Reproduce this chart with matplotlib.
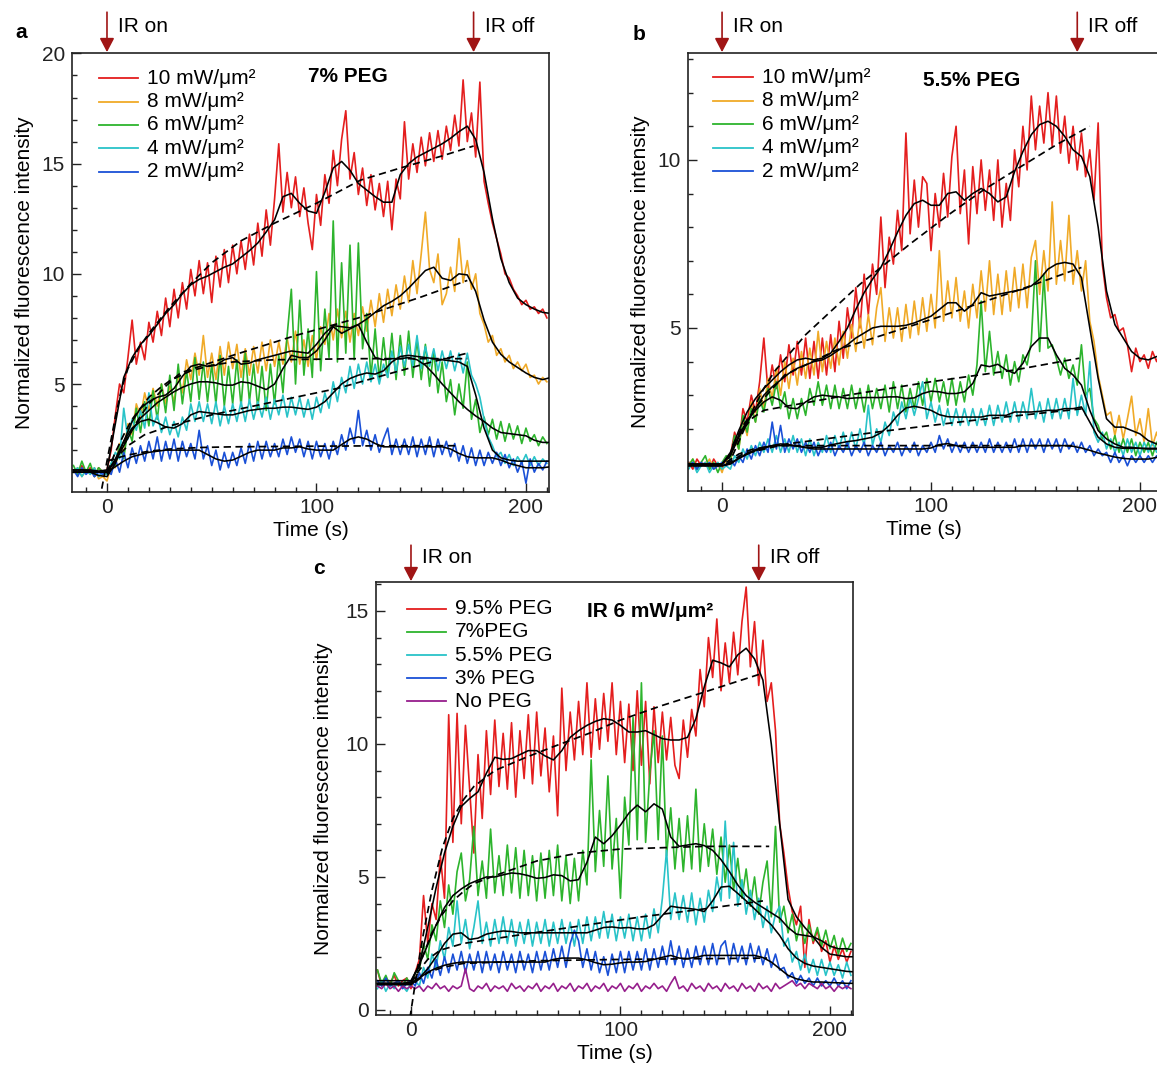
import numpy as np
import matplotlib
matplotlib.use('Agg')
import matplotlib.pyplot as plt
from matplotlib.ticker import MultipleLocator

plt.rcParams['font.family'] = ['Liberation Sans', 'DejaVu Sans']
plt.rcParams['font.size'] = 15

# ---------------- data ----------------
T0, DT = -16, 2      # raw traces: first time (s) and step (s)
S0, DS = -16, 4      # smoothed curves: first time (s) and step (s)

a_labels = ['10 mW/μm²', '8 mW/μm²', '6 mW/μm²', '4 mW/μm²', '2 mW/μm²']
b_labels = ['10 mW/μm²', '8 mW/μm²', '6 mW/μm²', '4 mW/μm²', '2 mW/μm²']
c_labels = ['9.5% PEG', '7%PEG', '5.5% PEG', '3% PEG', 'No PEG']
a_title, b_title, c_title = '7% PEG', '5.5% PEG', 'IR 6 mW/μm²'
a_ir_off, b_ir_off, c_ir_off = 175, 170, 166

# Panel a (7% PEG) raw traces
a_red = [1.1, 0.9, 1.3, 1.0, 1.2, 0.8, 1.2, 1.0, 1.1, 2.0,
         3.6, 5.0, 4.6, 6.2, 7.9, 5.9, 6.9, 6.1, 7.8, 6.9,
         8.3, 7.2, 8.9, 7.6, 9.3, 8.0, 9.6, 8.4, 10.2, 9.0,
         10.6, 9.1, 10.5, 8.7, 10.8, 9.4, 11.1, 9.6, 11.3, 10.0,
         11.5, 10.2, 11.8, 10.4, 12.3, 10.8, 12.9, 11.3, 13.4, 15.9,
         12.8, 14.6, 13.0, 14.4, 12.6, 13.9, 12.3, 11.1, 13.6, 12.2,
         14.5, 13.2, 15.6, 14.0, 16.1, 17.4, 14.3, 15.5, 13.6, 14.8,
         13.1, 14.5, 12.9, 14.1, 12.6, 14.2, 12.0, 14.3, 13.4, 16.9,
         14.3, 15.9, 14.6, 16.2, 14.9, 16.4, 15.1, 16.5, 15.2, 16.7,
         15.6, 17.2, 15.8, 18.8, 16.0, 17.3, 15.3, 18.7, 14.2, 13.2,
         12.3, 11.6, 10.9, 10.0, 9.8, 9.3, 9.0, 8.6, 8.8, 8.4,
         8.5, 8.2, 8.4, 8.0]
a_orange = [1.0, 1.2, 0.8, 1.1, 0.9, 1.2, 0.7, 0.8, 0.6, 1.3,
            1.2, 2.3, 1.9, 3.2, 2.7, 4.1, 3.5, 4.6, 3.8, 4.8,
            4.0, 5.0, 4.1, 4.9, 4.2, 5.4, 4.6, 6.1, 5.2, 6.4,
            5.4, 7.2, 5.3, 6.4, 5.2, 6.7, 5.4, 6.9, 5.7, 6.8,
            5.3, 6.6, 5.4, 6.7, 5.5, 6.9, 5.6, 7.0, 5.8, 6.9,
            5.9, 7.1, 6.0, 7.4, 5.9, 7.0, 5.8, 7.2, 6.1, 7.6,
            6.8, 8.2, 7.0, 8.4, 7.1, 8.3, 6.9, 8.2, 7.2, 8.5,
            7.4, 8.8, 7.6, 9.1, 7.8, 9.3, 8.1, 9.5, 8.4, 9.9,
            8.7, 10.6, 9.1, 10.9, 12.8, 10.2, 9.6, 10.9, 8.6, 9.1,
            10.3, 9.2, 11.6, 9.6, 10.6, 9.3, 10.0, 8.2, 7.7, 6.9,
            7.2, 6.3, 6.6, 6.0, 6.3, 5.7, 6.0, 5.6, 5.9, 5.3,
            5.4, 5.0, 5.3, 5.1]
a_green = [1.3, 0.9, 1.5, 1.0, 1.4, 0.8, 1.2, 1.0, 0.9, 1.4,
           1.3, 2.2, 1.6, 3.0, 2.4, 3.9, 2.8, 4.2, 3.1, 4.7,
           3.4, 5.0, 3.7, 5.4, 3.8, 5.9, 4.1, 5.6, 4.2, 6.2,
           4.3, 6.0, 4.2, 5.9, 4.1, 6.3, 4.0, 5.8, 4.1, 6.1,
           4.0, 6.4, 4.2, 5.9, 3.9, 5.8, 3.8, 5.9, 4.1, 6.3,
           4.6, 7.2, 9.3, 5.0, 8.8, 5.4, 7.5, 5.3, 10.1, 5.6,
           8.4, 6.2, 12.4, 6.0, 10.5, 6.4, 11.3, 6.1, 11.4, 6.6,
           8.2, 5.3, 7.5, 5.2, 7.1, 5.3, 7.3, 5.2, 7.2, 5.4,
           7.4, 5.3, 7.0, 5.2, 6.8, 4.9, 6.5, 4.6, 6.0, 4.2,
           5.2, 3.6, 5.0, 3.9, 6.0, 3.4, 4.3, 2.8, 3.5, 2.7,
           3.4, 2.5, 3.3, 2.4, 3.2, 2.5, 3.1, 2.3, 3.0, 2.4,
           2.7, 2.2, 2.6, 2.3]
a_cyan = [1.0, 1.2, 0.8, 1.1, 0.9, 1.2, 0.8, 1.0, 0.9, 1.4,
          1.9, 1.6, 3.9, 2.5, 3.4, 2.9, 3.8, 3.0, 4.6, 3.1,
          3.6, 2.8, 3.5, 2.7, 3.3, 2.6, 3.5, 2.9, 4.1, 3.3,
          4.2, 3.3, 4.1, 3.2, 4.2, 3.1, 4.0, 3.2, 4.1, 3.3,
          4.2, 3.3, 4.3, 3.4, 4.2, 3.5, 4.4, 3.4, 4.3, 3.6,
          4.5, 3.5, 4.4, 3.6, 4.4, 3.5, 4.3, 3.4, 4.4, 3.7,
          4.6, 3.9, 5.1, 4.2, 5.3, 4.6, 5.8, 4.8, 5.9, 5.0,
          6.0, 5.1, 5.9, 5.0, 5.9, 5.3, 6.5, 5.5, 6.7, 5.8,
          6.8, 5.8, 7.2, 5.7, 6.7, 5.8, 6.6, 5.6, 6.5, 5.7,
          6.5, 5.6, 6.4, 5.5, 6.4, 5.4, 5.0, 4.4, 3.4, 2.6,
          2.2, 1.7, 1.9, 1.4, 1.8, 1.3, 1.7, 1.4, 1.8, 1.3,
          1.7, 1.3, 1.6, 1.4]
a_blue = [1.1, 0.8, 1.2, 0.9, 1.1, 0.8, 1.0, 0.9, 1.1, 0.9,
          1.6, 1.0, 1.9, 1.2, 2.1, 1.4, 2.2, 1.5, 2.4, 1.6,
          2.6, 1.5, 2.4, 1.6, 2.5, 1.5, 2.4, 1.7, 2.3, 1.6,
          2.9, 1.6, 2.2, 1.3, 2.0, 1.1, 1.9, 1.2, 1.9, 1.3,
          2.1, 1.4, 2.3, 1.5, 2.4, 1.6, 2.4, 1.7, 2.3, 1.7,
          2.5, 1.8, 2.6, 1.9, 2.5, 1.7, 2.4, 1.6, 2.4, 1.7,
          2.3, 1.6, 2.4, 1.8, 2.7, 2.0, 3.0, 2.3, 3.8, 2.2,
          2.9, 2.0, 2.7, 1.9, 2.5, 3.0, 1.8, 2.5, 1.8, 2.5,
          1.8, 2.6, 1.7, 2.5, 1.8, 2.6, 1.7, 2.5, 1.8, 2.4,
          1.7, 2.3, 1.5, 2.2, 1.4, 2.1, 1.3, 2.0, 1.3, 1.9,
          1.4, 1.9, 1.3, 1.8, 1.2, 1.6, 1.0, 1.5, 0.5, 1.6,
          1.0, 1.4, 1.1, 1.5]

# Panel a smoothed curves
a_red_s = [1.1, 1.1, 1.1, 1.05, 1.1, 3.2, 5.3, 6.2, 6.8, 7.2, 7.7, 8.2, 8.6, 9.1, 9.5,
           9.75, 9.9, 10.1, 10.3, 10.45, 10.75, 11.05, 11.4, 11.9, 12.45, 13.5, 13.65,
           13.2, 12.85, 12.75, 13.7, 14.8, 15.1, 14.7, 14.1, 13.8, 13.5, 13.25, 13.25,
           14.5, 15.0, 15.3, 15.5, 15.7, 15.9, 16.15, 16.45, 16.7, 16.1, 14.6, 12.5,
           10.7, 9.6, 8.9, 8.6, 8.4, 8.25, 8.2]
a_orange_s = [1.0, 1.0, 1.0, 0.85, 0.8, 1.4, 2.4, 3.3, 3.9, 4.2, 4.4, 4.5, 4.8, 5.35, 5.8,
              5.9, 5.8, 5.85, 6.1, 6.2, 5.9, 5.95, 6.1, 6.2, 6.3, 6.4, 6.5, 6.45, 6.4, 6.8,
              7.3, 7.65, 7.6, 7.55, 7.7, 7.95, 8.25, 8.55, 8.75, 9.0, 9.35, 9.75, 10.15,
              10.3, 9.8, 9.7, 10.0, 9.95, 9.2, 7.9, 6.9, 6.35, 6.0, 5.75, 5.5, 5.3, 5.2, 5.3]
a_green_s = [1.1, 1.1, 1.05, 1.0, 1.0, 1.5, 2.2, 2.9, 3.45, 3.8, 4.15, 4.4, 4.65, 4.85, 5.0,
             5.1, 5.1, 5.05, 4.95, 4.95, 5.1, 5.05, 4.9, 4.75, 5.0, 5.7, 6.3, 6.2, 6.2, 6.5,
             7.0, 7.6, 7.3, 7.5, 7.7, 6.9, 6.2, 6.1, 6.15, 6.15, 6.2, 6.1, 5.85, 5.45, 5.0,
             4.6, 4.2, 3.85, 3.55, 3.3, 3.0, 2.8, 2.75, 2.7, 2.65, 2.45, 2.35, 2.35]
a_cyan_s = [1.0, 1.0, 1.0, 1.0, 1.0, 1.6, 2.4, 3.0, 3.3, 3.4, 3.25, 3.05, 3.0, 3.2, 3.6,
            3.75, 3.7, 3.65, 3.6, 3.6, 3.7, 3.8, 3.85, 3.9, 3.9, 3.95, 3.95, 3.9, 3.85, 3.95,
            4.2, 4.6, 5.0, 5.25, 5.4, 5.5, 5.45, 5.6, 6.0, 6.25, 6.3, 6.25, 6.2, 6.15, 6.1,
            6.05, 6.0, 5.8, 4.5, 3.0, 2.0, 1.65, 1.55, 1.5, 1.5, 1.5, 1.5, 1.5]
a_blue_s = [1.0, 1.0, 1.0, 1.0, 1.0, 1.25, 1.5, 1.7, 1.8, 1.9, 1.95, 2.0, 2.0, 2.0, 2.0,
            2.0, 1.8, 1.6, 1.5, 1.55, 1.72, 1.9, 2.0, 2.0, 2.0, 2.1, 2.1, 2.15, 2.05, 2.0,
            2.0, 2.0, 2.25, 2.5, 2.6, 2.5, 2.3, 2.15, 2.15, 2.15, 2.15, 2.15, 2.15, 2.15,
            2.15, 2.05, 1.85, 1.7, 1.65, 1.65, 1.65, 1.55, 1.4, 1.3, 1.2, 1.2, 1.2, 1.25]

# Panel a fitted (dashed) curves: times and values
a_fit_red_t = [-2.5, 0, 2, 4, 7, 10, 15, 20, 30, 40, 50, 64, 80, 100, 121, 140, 160, 175]
a_fit_red_v = [0.25, 1.5, 2.5, 3.5, 4.8, 5.7, 6.6, 7.3, 8.5, 9.55, 10.5, 11.5, 12.3, 13.2, 14.25, 14.8, 15.35, 15.8]
a_fit_orange_t = [0, 5, 10, 15, 20, 28, 35, 60, 90, 120, 150, 172]
a_fit_orange_v = [0.9, 1.7, 2.6, 3.4, 4.1, 4.9, 5.5, 6.3, 7.2, 8.0, 8.95, 9.7]
a_fit_green_t = [0, 4, 8, 12, 16, 20, 25, 30, 40, 50, 60, 80, 120, 172]
a_fit_green_v = [1.0, 1.9, 2.7, 3.4, 3.9, 4.4, 4.8, 5.15, 5.6, 5.85, 6.0, 6.1, 6.15, 6.15]
a_fit_cyan_t = [0, 5, 10, 18, 30, 50, 80, 110, 136, 155, 172]
a_fit_cyan_v = [1.0, 1.7, 2.2, 2.7, 3.1, 3.6, 4.2, 4.8, 5.5, 6.0, 6.4]
a_fit_blue_t = [0, 5, 10, 20, 30, 45, 60, 100, 140, 168]
a_fit_blue_v = [1.5, 1.65, 1.78, 1.95, 2.05, 2.12, 2.15, 2.18, 2.2, 2.2]

# Panel b (5.5% PEG) raw traces
b_red = [1.0, 0.8, 1.1, 0.9, 1.0, 0.8, 1.1, 0.9, 0.8, 1.1,
         1.2, 1.9, 1.5, 2.6, 2.2, 3.0, 2.5, 3.4, 4.7, 3.1,
         3.9, 3.2, 4.2, 3.4, 4.5, 3.6, 4.6, 3.6, 4.7, 3.5,
         4.6, 3.5, 4.7, 3.6, 4.8, 3.7, 5.2, 4.1, 5.6, 4.7,
         6.2, 5.0, 6.6, 5.4, 6.9, 6.0, 8.3, 6.2, 7.7, 6.9,
         8.5, 7.3, 10.8, 7.8, 9.4, 8.0, 9.5, 9.3, 7.3, 9.0,
         8.0, 9.6, 8.3, 10.1, 11.0, 8.4, 9.7, 7.5, 9.8, 8.4,
         10.0, 8.5, 9.7, 8.2, 10.0, 8.0, 9.3, 8.2, 10.3, 9.2,
         11.0, 9.7, 11.9, 10.3, 11.6, 10.5, 12.0, 10.4, 11.9, 10.2,
         11.3, 9.9, 11.0, 9.7, 10.8, 9.5, 10.3, 8.8, 11.1, 6.9,
         5.9, 5.3, 5.4, 4.9, 5.0, 4.5, 3.7, 4.4, 4.0, 4.2,
         3.8, 4.3, 4.0, 4.4]
b_orange = [0.9, 1.1, 0.8, 1.0, 0.9, 1.1, 0.8, 1.0, 0.7, 1.1,
            1.0, 1.7, 1.4, 2.3, 1.8, 2.8, 2.2, 3.2, 2.6, 3.5,
            2.9, 3.8, 3.0, 4.0, 3.2, 4.1, 3.3, 4.3, 3.5, 4.4,
            3.6, 4.9, 3.7, 4.6, 3.8, 4.7, 3.9, 4.9, 4.1, 5.1,
            4.3, 5.3, 4.4, 5.4, 4.5, 5.6, 6.2, 4.6, 5.6, 4.7,
            5.6, 4.6, 5.7, 4.7, 5.8, 4.8, 5.9, 4.9, 6.0, 5.0,
            7.3, 5.2, 6.4, 5.3, 6.5, 5.2, 6.1, 5.0, 6.3, 5.3,
            6.7, 5.5, 7.0, 5.4, 6.6, 5.4, 6.7, 5.5, 6.8, 5.6,
            6.9, 5.6, 7.1, 7.6, 6.0, 7.3, 6.1, 8.75, 6.3, 7.6,
            6.4, 8.35, 6.3, 7.3, 6.1, 7.0, 5.2, 4.6, 3.6, 3.0,
            2.4, 2.5, 1.8, 2.4, 1.7, 2.3, 2.97, 1.8, 2.3, 1.6,
            2.6, 1.5, 1.9, 1.4]
b_green = [0.9, 1.1, 0.8, 1.0, 1.2, 0.8, 1.0, 0.7, 1.0, 1.2,
           1.1, 1.8, 1.4, 2.4, 1.9, 2.6, 2.2, 2.9, 2.5, 3.2,
           2.7, 3.4, 2.6, 3.1, 2.3, 2.9, 2.3, 2.9, 2.4, 3.2,
           2.7, 3.4, 2.7, 3.3, 2.6, 3.3, 2.6, 3.2, 2.6, 3.3,
           2.6, 3.2, 2.5, 3.3, 2.6, 3.2, 2.6, 3.3, 2.5, 3.4,
           2.6, 3.3, 2.5, 3.2, 2.6, 3.4, 2.7, 3.5, 2.8, 3.5,
           2.8, 3.4, 2.7, 3.5, 2.7, 3.4, 2.8, 3.6, 3.0, 3.9,
           5.8, 3.7, 4.9, 3.6, 4.3, 3.5, 4.2, 3.3, 4.0, 3.4,
           4.2, 3.9, 4.6, 7.0, 4.3, 6.6, 4.4, 4.5, 4.1, 3.6,
           4.1, 3.5, 3.9, 3.3, 4.5, 3.0, 3.2, 2.3, 2.1, 1.7,
           1.9, 1.4, 1.8, 1.3, 1.7, 1.3, 1.7, 1.2, 1.6, 1.3,
           1.6, 1.2, 1.6, 1.3]
b_cyan = [0.8, 1.0, 0.7, 0.9, 1.0, 0.7, 0.9, 1.0, 0.8, 0.9,
          0.8, 1.2, 1.0, 1.4, 1.1, 1.5, 1.2, 1.6, 1.3, 1.7,
          1.3, 1.8, 1.3, 1.7, 1.3, 1.8, 1.3, 1.7, 1.2, 1.7,
          1.2, 1.6, 1.3, 1.8, 1.3, 1.8, 1.4, 1.9, 1.4, 1.9,
          1.4, 2.0, 1.5, 2.7, 1.5, 2.0, 1.6, 2.2, 1.8, 2.5,
          2.1, 2.8, 2.3, 2.9, 2.4, 2.9, 3.4, 2.3, 2.8, 2.2,
          2.7, 2.1, 2.6, 2.1, 2.6, 2.1, 2.6, 2.1, 2.6, 2.1,
          2.6, 2.1, 2.7, 2.1, 2.7, 2.2, 2.8, 2.2, 2.8, 2.2,
          2.8, 2.3, 3.2, 2.3, 2.8, 2.2, 2.9, 2.3, 2.9, 2.3,
          2.9, 2.3, 3.5, 2.4, 3.0, 2.4, 4.0, 1.9, 1.6, 1.9,
          1.4, 1.7, 1.3, 1.6, 1.2, 1.7, 1.3, 1.6, 1.2, 1.6,
          1.3, 1.6, 1.3, 1.5]
b_blue = [0.9, 1.0, 0.8, 1.0, 0.9, 1.0, 0.8, 0.9, 1.0, 0.9,
          1.1, 0.9, 1.2, 1.0, 1.4, 1.1, 1.5, 1.2, 1.6, 1.3,
          2.2, 1.4, 2.1, 1.3, 1.7, 1.4, 1.7, 1.3, 1.6, 1.3,
          1.6, 1.2, 1.5, 1.3, 1.6, 1.2, 1.5, 1.3, 1.6, 1.2,
          1.5, 1.3, 1.6, 1.2, 1.5, 1.3, 1.6, 1.2, 1.5, 1.3,
          1.6, 1.2, 1.5, 1.3, 1.6, 1.2, 1.5, 1.3, 1.6, 1.3,
          1.8, 1.4, 1.7, 1.3, 1.6, 1.3, 1.6, 1.3, 1.6, 1.3,
          1.6, 1.3, 1.7, 1.3, 1.6, 1.3, 1.6, 1.3, 1.7, 1.3,
          1.7, 1.3, 1.7, 1.4, 1.7, 1.3, 1.7, 1.4, 1.7, 1.3,
          1.7, 1.4, 1.6, 1.3, 1.6, 1.3, 1.5, 1.2, 1.4, 1.2,
          1.3, 1.0, 1.3, 1.0, 1.2, 0.9, 1.2, 1.0, 1.2, 1.0,
          1.2, 1.0, 1.2, 1.1]

# Panel b smoothed curves
b_red_s = [0.95, 0.95, 0.95, 0.95, 0.95, 1.3, 1.95, 2.5, 2.9, 3.2, 3.45, 3.7, 3.9, 4.05, 4.1,
           4.05, 4.1, 4.25, 4.6, 5.0, 5.55, 6.05, 6.45, 6.8, 7.3, 7.85, 8.35, 8.7, 8.8, 8.65,
           8.65, 9.0, 9.05, 8.8, 9.0, 9.15, 9.0, 8.75, 8.9, 9.65, 10.25, 10.75, 11.05, 11.15,
           11.0, 10.7, 10.3, 10.1, 9.5, 8.0, 6.1, 5.1, 4.7, 4.3, 4.1, 4.05, 4.15, 4.15]
b_orange_s = [0.95, 0.95, 0.95, 0.95, 0.95, 1.2, 1.75, 2.2, 2.6, 3.0, 3.25, 3.45, 3.65, 3.8, 3.9,
              4.0, 4.05, 4.18, 4.35, 4.5, 4.7, 4.85, 5.0, 5.05, 5.05, 5.05, 5.08, 5.15, 5.25,
              5.35, 5.55, 5.75, 5.75, 5.5, 5.7, 6.05, 5.95, 6.0, 6.05, 6.1, 6.15, 6.25, 6.45,
              6.75, 6.9, 6.95, 6.9, 6.5, 5.0, 3.5, 2.3, 2.05, 2.05, 1.95, 1.85, 1.65, 1.55, 1.5]
b_green_s = [0.95, 0.95, 0.95, 0.95, 0.95, 1.25, 1.8, 2.25, 2.55, 2.8, 2.95, 2.85, 2.62, 2.6, 2.8,
             2.95, 3.0, 2.97, 2.95, 2.9, 2.92, 2.93, 2.93, 2.93, 2.95, 2.95, 2.9, 2.92, 3.05,
             3.12, 3.1, 3.05, 3.05, 3.1, 3.35, 3.9, 3.85, 3.92, 3.75, 3.65, 3.95, 4.45, 4.7,
             4.7, 4.2, 3.8, 3.6, 3.3, 2.55, 1.95, 1.7, 1.55, 1.45, 1.45, 1.42, 1.4, 1.4, 1.4]
b_cyan_s = [0.9, 0.9, 0.9, 0.9, 0.9, 0.95, 1.12, 1.27, 1.38, 1.45, 1.5, 1.5, 1.5, 1.5, 1.45,
            1.45, 1.45, 1.52, 1.57, 1.62, 1.65, 1.7, 1.75, 1.88, 2.1, 2.4, 2.62, 2.67, 2.62,
            2.55, 2.42, 2.36, 2.35, 2.35, 2.35, 2.35, 2.4, 2.4, 2.4, 2.5, 2.5, 2.5, 2.52, 2.55,
            2.55, 2.6, 2.6, 2.65, 2.2, 1.75, 1.55, 1.45, 1.42, 1.42, 1.42, 1.42, 1.42, 1.42]
b_blue_s = [0.9, 0.9, 0.9, 0.9, 0.9, 0.98, 1.12, 1.24, 1.35, 1.42, 1.5, 1.55, 1.53, 1.48, 1.44,
            1.4, 1.4, 1.4, 1.4, 1.4, 1.4, 1.4, 1.4, 1.4, 1.4, 1.4, 1.4, 1.4, 1.4,
            1.43, 1.53, 1.56, 1.5, 1.44, 1.45, 1.45, 1.45, 1.45, 1.45, 1.45,
            1.5, 1.5, 1.5, 1.5, 1.5, 1.5, 1.48, 1.43, 1.36, 1.28, 1.22, 1.16, 1.12, 1.1,
            1.1, 1.1, 1.15, 1.15]

# Panel b fitted (dashed) curves
b_fit_red_t = [5, 10, 15, 20, 25, 40, 66, 90, 108, 125, 143, 160, 176]
b_fit_red_v = [1.2, 1.9, 2.6, 3.2, 3.7, 4.8, 6.3, 7.5, 8.35, 9.1, 9.8, 10.45, 11.0]
b_fit_orange_t = [5, 10, 17, 30, 55, 100, 143, 172]
b_fit_orange_v = [1.5, 2.1, 2.7, 3.6, 4.35, 5.25, 6.15, 6.8]
b_fit_green_t = [3, 8, 14, 20, 60, 100, 140, 171]
b_fit_green_v = [1.1, 1.8, 2.3, 2.55, 3.0, 3.4, 3.75, 4.1]
b_fit_cyan_t = [2, 10, 31, 80, 120, 173]
b_fit_cyan_v = [0.95, 1.25, 1.55, 1.95, 2.25, 2.6]
b_fit_blue_t = [2, 8, 15, 25, 60, 120, 170]
b_fit_blue_v = [1.0, 1.25, 1.4, 1.5, 1.5, 1.5, 1.5]

# Panel c (IR 6 mW/um2) raw traces
c_red = [1.5, 0.9, 1.2, 1.0, 1.3, 0.9, 1.1, 1.2, 0.8, 1.4,
         1.9, 4.3, 2.5, 4.0, 3.4, 5.8, 4.2, 11.1, 6.3, 11.15,
         7.0, 10.7, 8.3, 5.9, 9.6, 7.2, 10.5, 8.1, 10.9, 8.4,
         10.4, 8.3, 10.8, 8.0, 10.5, 8.7, 11.1, 8.5, 11.2, 8.8,
         10.6, 8.2, 10.3, 7.3, 12.1, 9.0, 11.2, 9.4, 11.6, 9.6,
         12.3, 9.5, 11.7, 9.8, 11.9, 10.1, 12.3, 9.6, 11.6, 9.3,
         11.5, 9.0, 12.0, 9.2, 11.6, 8.5, 11.4, 9.3, 11.2, 9.4,
         11.0, 9.2, 8.7, 10.9, 9.5, 11.3, 10.3, 12.8, 11.4, 14.0,
         12.5, 14.7, 12.0, 13.8, 12.3, 14.2, 12.6, 14.6, 15.9, 12.9,
         14.6, 12.2, 13.9, 11.6, 12.3, 10.5, 7.0, 5.9, 4.6, 3.7,
         3.2, 3.9, 1.6, 3.4, 2.5, 3.0, 2.2, 2.6, 1.8, 2.4,
         1.9, 2.3, 1.8, 2.2]
c_green = [1.5, 1.0, 1.3, 0.9, 1.4, 1.1, 0.9, 1.2, 0.9, 1.4,
           1.5, 2.5, 1.9, 3.2, 2.6, 4.1, 3.1, 4.7, 3.6, 5.2,
           5.9, 4.1, 4.9, 6.9, 4.3, 5.6, 4.2, 6.8, 4.4, 5.8,
           4.3, 6.2, 4.4, 6.1, 4.2, 6.0, 4.3, 5.8, 4.1, 5.9,
           4.2, 6.0, 4.3, 6.2, 4.1, 5.8, 4.0, 5.7, 4.1, 6.0,
           4.7, 9.4, 5.2, 7.5, 5.4, 8.8, 5.3, 7.2, 4.2, 8.0,
           6.2, 11.0, 6.4, 12.3, 6.3, 8.9, 10.5, 6.4, 10.3, 5.8,
           7.6, 5.3, 7.2, 5.2, 7.3, 5.3, 8.3, 5.2, 7.0, 5.4,
           6.8, 5.1, 6.5, 4.8, 6.2, 4.5, 5.7, 4.2, 5.3, 3.9,
           5.0, 3.6, 4.8, 5.6, 3.5, 6.9, 3.3, 3.9, 2.9, 3.6,
           2.6, 3.3, 2.5, 3.2, 2.6, 3.1, 2.4, 3.0, 2.3, 2.8,
           2.1, 2.7, 2.2, 2.5]
c_cyan = [0.8, 1.1, 0.7, 1.0, 0.8, 1.1, 0.9, 0.7, 1.0, 1.1,
          0.9, 1.6, 1.2, 2.1, 1.6, 2.6, 1.9, 3.1, 2.4, 4.1,
          2.5, 3.4, 2.3, 3.1, 4.1, 2.5, 3.3, 2.4, 3.4, 2.5,
          3.5, 2.5, 3.4, 2.4, 3.3, 2.5, 3.4, 2.4, 3.3, 2.5,
          3.4, 2.4, 3.3, 2.5, 3.4, 2.5, 3.3, 2.4, 3.4, 2.5,
          3.5, 2.6, 3.5, 2.7, 3.7, 2.7, 3.6, 2.6, 3.5, 2.7,
          3.6, 2.6, 3.5, 2.6, 3.6, 2.7, 3.8, 2.9, 4.2, 6.0,
          3.4, 4.4, 3.4, 4.3, 3.3, 4.4, 3.2, 4.2, 3.3, 4.5,
          3.7, 5.0, 4.1, 7.1, 4.2, 6.3, 3.9, 4.9, 3.6, 4.5,
          3.4, 4.2, 3.1, 3.9, 2.9, 3.6, 3.9, 2.4, 2.7, 1.8,
          2.2, 1.5, 2.1, 1.4, 1.9, 1.3, 1.9, 1.3, 1.8, 1.3,
          1.7, 1.2, 1.8, 1.3]
c_blue = [1.1, 0.9, 1.2, 0.9, 1.0, 1.1, 0.8, 1.0, 1.1, 0.9,
          1.4, 1.0, 1.6, 1.2, 1.9, 1.3, 2.0, 1.4, 2.1, 1.5,
          2.2, 1.4, 2.1, 1.5, 2.2, 1.4, 2.2, 1.5, 2.1, 1.4,
          2.2, 1.5, 2.1, 1.4, 2.2, 1.5, 2.1, 1.4, 2.2, 1.5,
          2.2, 1.5, 2.3, 1.6, 2.4, 1.6, 2.5, 3.0, 2.6, 1.6,
          2.3, 1.5, 2.2, 1.4, 2.0, 1.3, 2.1, 1.4, 2.2, 1.4,
          2.2, 1.5, 2.2, 1.5, 2.3, 1.5, 2.3, 1.6, 2.4, 1.7,
          2.6, 1.7, 2.4, 1.6, 2.3, 1.6, 2.4, 1.7, 2.4, 1.7,
          2.5, 1.7, 2.4, 2.6, 1.7, 2.5, 1.8, 2.4, 1.7, 2.5,
          1.8, 2.4, 1.7, 2.3, 1.6, 2.1, 1.5, 1.6, 1.2, 1.4,
          1.0, 1.3, 1.0, 1.2, 0.9, 1.2, 0.9, 1.1, 0.9, 1.2,
          0.9, 1.1, 0.8, 1.1]
c_purple = [0.9, 0.8, 1.0, 0.8, 0.9, 0.7, 0.9, 0.8, 0.9, 0.8,
            0.9, 0.7, 0.9, 0.8, 1.0, 0.8, 0.9, 0.7, 0.9, 0.8,
            0.9, 1.55, 0.8, 0.7, 0.9, 0.8, 1.0, 0.7, 0.9, 0.8,
            0.9, 0.7, 1.0, 0.8, 0.9, 0.7, 0.9, 0.8, 1.0, 0.7,
            0.9, 0.8, 1.0, 0.7, 0.9, 0.8, 1.0, 0.7, 0.9, 0.8,
            1.0, 0.7, 0.9, 0.8, 1.0, 0.7, 0.9, 0.8, 1.0, 0.7,
            0.9, 0.8, 1.0, 0.7, 0.9, 0.8, 1.0, 0.8, 0.9, 0.7,
            1.0, 1.25, 0.8, 0.9, 0.7, 1.0, 0.8, 0.9, 0.7, 1.0,
            0.8, 0.9, 0.7, 1.0, 0.8, 0.9, 0.7, 1.0, 0.8, 0.9,
            0.7, 1.0, 0.8, 0.9, 0.7, 1.0, 0.8, 0.9, 1.0, 1.1,
            0.9, 1.0, 0.8, 1.0, 0.9, 0.8, 1.0, 0.8, 0.9, 0.7,
            0.9, 0.8, 0.9, 0.8]

# Panel c smoothed curves
c_red_s = [1.0, 1.0, 1.0, 1.0, 1.05, 1.7, 3.1, 4.6, 5.9, 6.9, 7.65, 7.95, 8.2, 8.9, 9.5,
           9.42, 9.45, 9.6, 9.75, 9.75, 9.55, 9.4, 9.75, 10.25, 10.5, 10.7, 10.85, 10.95,
           10.9, 10.7, 10.45, 10.45, 10.5, 10.35, 10.2, 10.15, 10.15, 10.25, 10.95, 12.15,
           13.15, 13.05, 12.9, 13.35, 13.6, 13.2, 12.4, 10.0, 7.0, 4.15, 3.5, 3.1, 2.75,
           2.35, 2.1, 2.05, 2.0, 2.0]
c_green_s = [1.1, 1.1, 1.1, 1.1, 1.1, 1.7, 2.45, 3.2, 3.85, 4.3, 4.55, 4.75, 4.88, 5.0, 5.0,
             5.08, 5.15, 5.12, 5.05, 4.95, 4.98, 5.08, 5.05, 4.85, 4.9, 5.55, 6.5, 6.25, 6.55,
             6.95, 7.4, 7.7, 7.45, 7.75, 7.55, 6.5, 6.15, 6.2, 6.25, 6.18, 6.0, 5.65, 5.2, 4.7,
             4.3, 4.05, 3.85, 3.65, 3.45, 3.1, 2.85, 2.8, 2.75, 2.6, 2.4, 2.3, 2.3, 2.25]
c_cyan_s = [0.95, 0.95, 0.95, 0.95, 0.95, 1.2, 1.55, 2.0, 2.5, 2.85, 2.9, 2.65, 2.7, 2.85, 2.92,
            2.97, 2.95, 2.9, 2.9, 2.9, 2.9, 2.9, 2.9, 2.9, 2.9, 2.9, 3.0, 3.1, 3.12, 3.08,
            3.1, 3.05, 3.05, 3.2, 3.55, 3.9, 3.85, 3.82, 3.78, 3.7, 4.1, 4.62, 4.65, 4.38,
            4.1, 3.8, 3.5, 3.2, 2.8, 2.3, 1.95, 1.75, 1.65, 1.6, 1.55, 1.5, 1.45, 1.43]
c_blue_s = [1.0, 1.0, 1.0, 1.0, 1.0, 1.2, 1.42, 1.57, 1.68, 1.75,
            1.8, 1.8, 1.8, 1.8, 1.8, 1.8, 1.8, 1.8, 1.8, 1.8, 1.8,
            1.9, 1.95, 1.95, 1.95, 1.88, 1.78, 1.7, 1.72, 1.77, 1.8, 1.8, 1.82, 1.9, 1.98,
            2.05, 1.95, 1.93, 1.98, 2.05, 2.05, 2.05, 2.05, 2.05, 2.05, 2.05, 1.97, 1.8, 1.55,
            1.3, 1.17, 1.1, 1.05, 1.05, 1.03, 1.02, 1.0, 1.0]

# Panel c fitted (dashed) curves
c_fit_red_t = [-0.5, 3, 6, 10, 15, 20, 25, 30, 40, 55, 68, 85, 100, 120, 140, 167.5]
c_fit_red_v = [-0.3, 1.5, 2.9, 4.5, 6.1, 7.2, 7.9, 8.4, 9.0, 9.5, 9.9, 10.4, 10.9, 11.45, 11.95, 12.65]
c_fit_green_t = [2, 5, 10, 15, 20, 25, 30, 40, 60, 80, 100, 120, 140, 171]
c_fit_green_v = [1.1, 1.9, 2.9, 3.6, 4.1, 4.45, 4.75, 5.05, 5.6, 5.9, 6.05, 6.1, 6.15, 6.15]
c_fit_cyan_t = [0, 4, 8, 14, 25, 50, 80, 110, 140, 168]
c_fit_cyan_v = [1.0, 1.5, 1.9, 2.25, 2.5, 2.8, 3.15, 3.5, 3.8, 4.1]
c_fit_blue_t = [2, 8, 15, 25, 60, 100, 170]
c_fit_blue_v = [1.05, 1.4, 1.6, 1.75, 1.85, 1.9, 1.95]

# ---------------- styles ----------------
RED, ORANGE, GREEN, CYAN, BLUE, PURPLE = '#e41e1e', '#f0aa28', '#2db42d', '#29c3c8', '#1a50d7', '#961e8c'
ARROW = '#a01515'
W, H = 1157, 1066

fig = plt.figure(figsize=(W / 100, H / 100), dpi=100)


def px_rect(left, top, right, bottom):
    return [left / W, 1 - bottom / H, (right - left) / W, (bottom - top) / H]


def panel(rect, xlim, ylim, traces, smooths, fits, colors, labels, title,
          title_xy, leg, ir_off, arrow_y, label_y, ylab_x, xlab_y):
    ax = fig.add_axes(rect)
    for vals, c in zip(traces, colors):
        t = T0 + DT * np.arange(len(vals))
        ax.plot(t, vals, color=c, lw=1.2, zorder=2)
    for vals in smooths:
        t = S0 + DS * np.arange(len(vals))
        ax.plot(t, vals, color='black', lw=1.15, zorder=3)
    for ft, fv in fits:
        ax.plot(ft, fv, color='black', lw=1.25, ls=(0, (4.2, 2.6)), zorder=4)
    ax.set_xlim(*xlim)
    ax.set_ylim(*ylim)
    ax.xaxis.set_major_locator(MultipleLocator(100))
    ax.xaxis.set_minor_locator(MultipleLocator(10))
    ax.yaxis.set_major_locator(MultipleLocator(5))
    ax.yaxis.set_minor_locator(MultipleLocator(1))
    ax.tick_params(which='both', direction='in', top=False, right=False, width=1.0,
                   labelsize=15, colors='#222222')
    ax.tick_params(which='major', length=6.5)
    ax.tick_params(which='minor', length=3.5)
    ax.tick_params(axis='x', pad=4.5)
    ax.tick_params(axis='y', pad=5)
    for s in ax.spines.values():
        s.set_linewidth(1.2)
        s.set_color('#222222')
    ax.set_xlabel('Time (s)', fontsize=15)
    ax.set_ylabel('Normalized fluorescence intensity', fontsize=15)
    ax.xaxis.label.set_va('center')
    ax.yaxis.label.set_va('center')
    ax.xaxis.set_label_coords(0.5, xlab_y)
    ax.yaxis.set_label_coords(ylab_x, 0.5)
    # legend (drawn by hand)
    hx0, hx1, tx, y0, dy = leg
    for i, (lab, c) in enumerate(zip(labels, colors)):
        y = y0 - i * dy
        ax.plot([hx0, hx1], [y, y], color=c, lw=1.3, transform=ax.transAxes, clip_on=False)
        ax.text(tx, y, lab, transform=ax.transAxes, ha='left', va='center', fontsize=15)
    ax.text(title_xy[0], title_xy[1], title, transform=ax.transAxes, ha='center',
            va='center', fontsize=15, fontweight='bold')
    # IR arrows
    trans = ax.get_xaxis_transform()
    for tx_, lab in [(0, 'IR on'), (ir_off, 'IR off')]:
        ax.annotate('', xy=(tx_, 1.002), xycoords=trans, xytext=(tx_, arrow_y),
                    textcoords=trans, annotation_clip=False,
                    arrowprops=dict(arrowstyle='-|>,head_length=0.42,head_width=0.22',
                                    mutation_scale=20, color=ARROW, lw=1.2,
                                    shrinkA=0, shrinkB=0))
        ax.annotate(lab, xy=(tx_, label_y), xycoords=trans, xytext=(8, 0),
                    textcoords='offset points', ha='left', va='center', fontsize=15,
                    annotation_clip=False)
    return ax


panel(px_rect(72, 53, 549, 492), (-16.7, 211.0), (0.1, 20.02),
      [a_red, a_orange, a_green, a_cyan, a_blue],
      [a_red_s, a_orange_s, a_green_s, a_cyan_s, a_blue_s],
      [(a_fit_red_t, a_fit_red_v), (a_fit_orange_t, a_fit_orange_v),
       (a_fit_green_t, a_fit_green_v), (a_fit_cyan_t, a_fit_cyan_v),
       (a_fit_blue_t, a_fit_blue_v)],
      [RED, ORANGE, GREEN, CYAN, BLUE], a_labels, a_title, (0.579, 0.946),
      (0.0566, 0.138, 0.157, 0.943, 0.0535), a_ir_off, 1.093, 1.0615, -0.1, -0.087)

panel(px_rect(688, 53, 1160, 491), (-16.3, 209.6), (0.15, 13.18),
      [b_red, b_orange, b_green, b_cyan, b_blue],
      [b_red_s, b_orange_s, b_green_s, b_cyan_s, b_blue_s],
      [(b_fit_red_t, b_fit_red_v), (b_fit_orange_t, b_fit_orange_v),
       (b_fit_green_t, b_fit_green_v), (b_fit_cyan_t, b_fit_cyan_v),
       (b_fit_blue_t, b_fit_blue_v)],
      [RED, ORANGE, GREEN, CYAN, BLUE], b_labels, b_title, (0.60, 0.938),
      (0.053, 0.138, 0.157, 0.945, 0.0537), b_ir_off, 1.093, 1.0615, -0.1, -0.089)

panel(px_rect(376, 582, 853, 1015), (-16.7, 211.0), (-0.19, 16.09),
      [c_red, c_green, c_cyan, c_blue, c_purple],
      [c_red_s, c_green_s, c_cyan_s, c_blue_s],
      [(c_fit_red_t, c_fit_red_v), (c_fit_green_t, c_fit_green_v),
       (c_fit_cyan_t, c_fit_cyan_v), (c_fit_blue_t, c_fit_blue_v)],
      [RED, GREEN, CYAN, BLUE, PURPLE], c_labels, c_title, (0.575, 0.933),
      (0.065, 0.147, 0.166, 0.938, 0.0533), c_ir_off, 1.085, 1.0575, -0.11, -0.088)

for lab, x, y in [('a', 21, 33), ('b', 639, 35), ('c', 319, 569)]:
    fig.text(x / W, 1 - y / H, lab, fontsize=15, fontweight='bold', ha='center', va='center')

fig.savefig('out.png', dpi=100)
